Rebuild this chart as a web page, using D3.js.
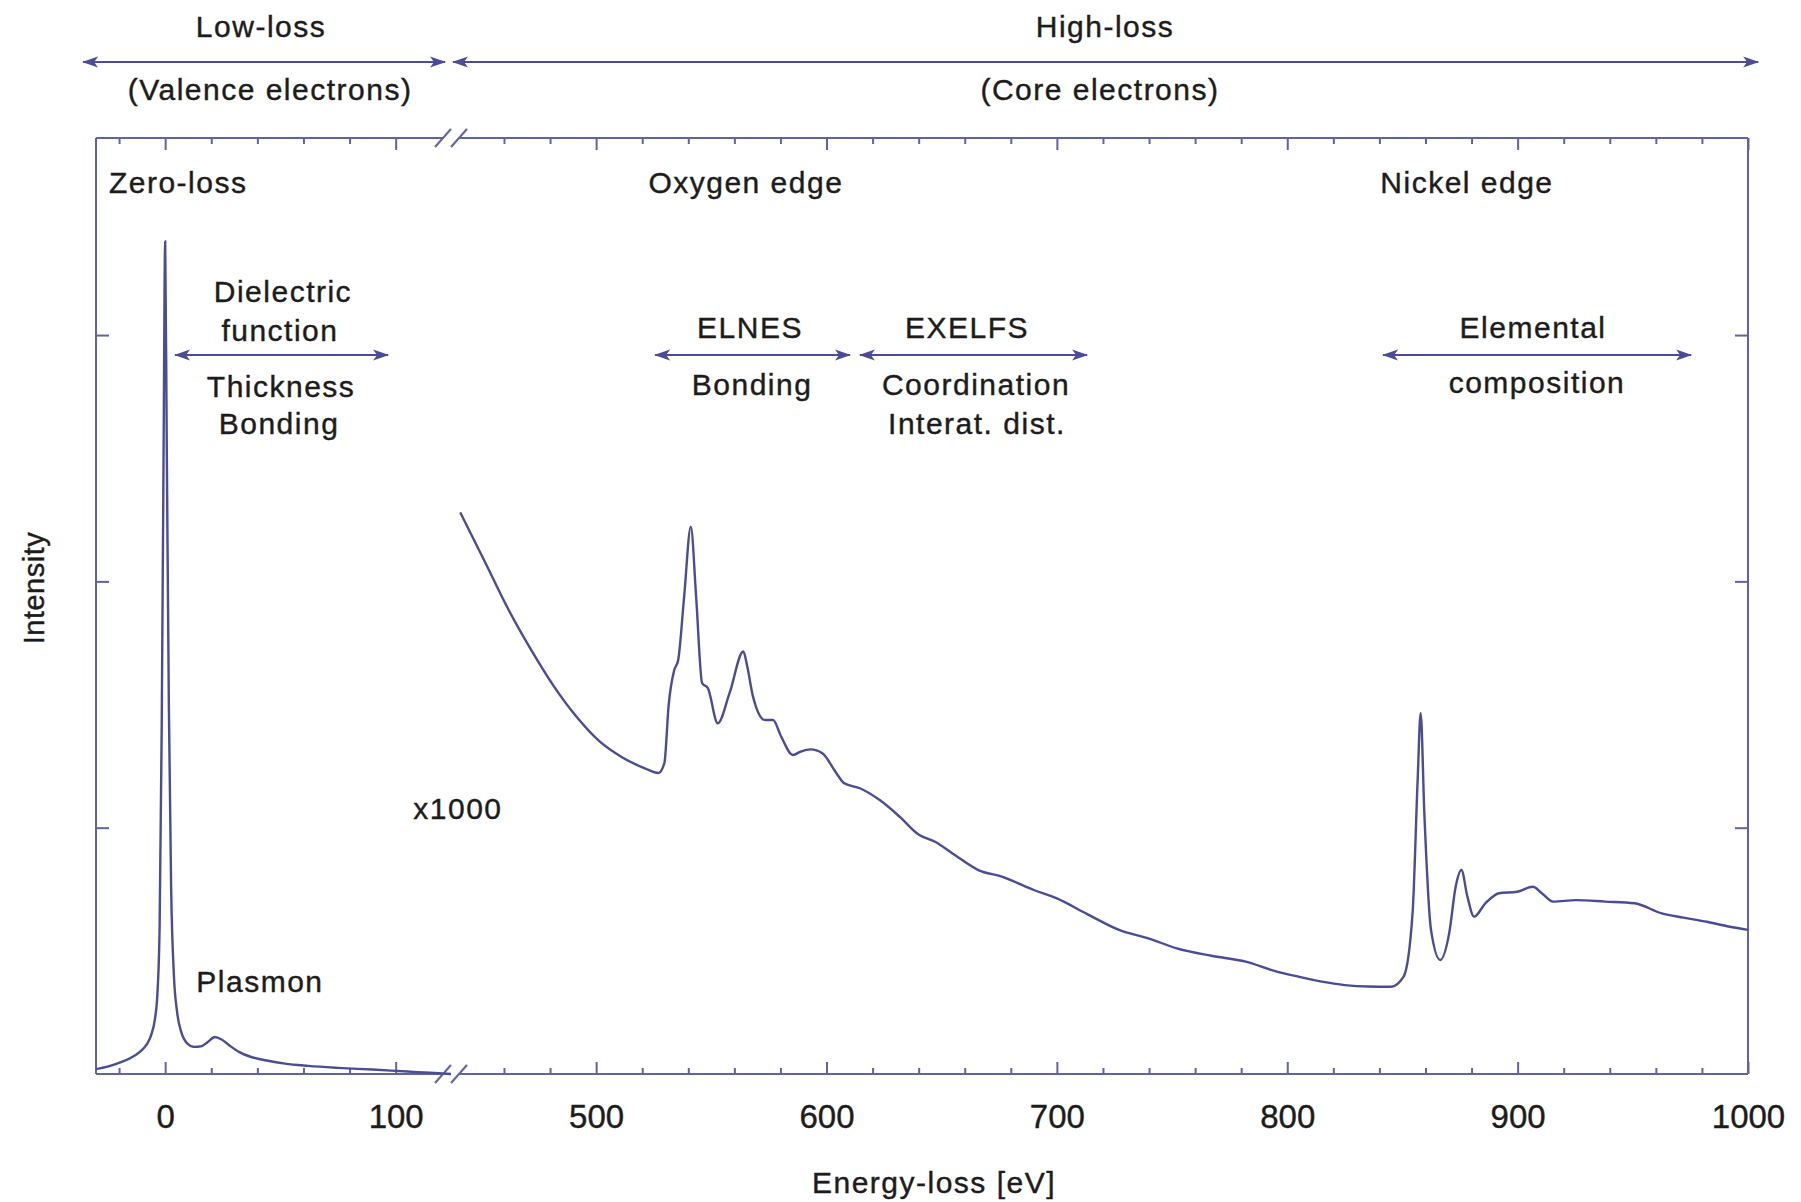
<!DOCTYPE html>
<html>
<head>
<meta charset="utf-8">
<script src="https://cdn.jsdelivr.net/npm/d3@7"></script>
<style>
  body { margin: 0; background: #fff; }
  text { font-family: "Liberation Sans", Arial, Helvetica, sans-serif; fill: #1c1c1c; }
</style>
</head>
<body>
<script>
// low-loss part (valence electrons), energy in eV and intensity in arbitrary units
var lowEnergy = [-30, -25, -20, -15, -11, -8, -6, -4.5, -3.4, -2.4, -1.5, -0.7, 0, 0.7, 1.6, 2.6, 3.8, 5.2, 7, 9.5,
  12.5, 15.5, 18.5, 21.6, 24.5, 28, 32, 37, 44, 52, 62, 75, 90, 105, 115, 124];
var lowIntensity = [0.02, 0.03, 0.045, 0.065, 0.09, 0.12, 0.16, 0.22, 0.32, 0.6, 1.4, 2.5, 3.38, 2.55, 1.5, 0.75, 0.4, 0.25, 0.17, 0.125,
  0.11, 0.112, 0.13, 0.15, 0.14, 0.115, 0.09, 0.07, 0.055, 0.042, 0.033, 0.025, 0.018, 0.01, 0.005, 0.0];

// high-loss part (core electrons, x1000)
var highEnergy = [441, 451.7, 461.7, 471.6, 481.6, 491.5, 501.5, 511.4, 521.4, 527, 529.6, 531.5, 533.9, 535.6, 538.2, 541.1, 543.4, 546,
  548.5, 552.8, 557.9, 563.9, 565.6, 568.1, 573.3, 576.8, 580.3, 585.4, 588.8, 593.1, 598.2, 604.3, 607.7, 614.5, 623.1, 631.7, 640.3, 647.1,
  655.7, 665.9, 676.1, 690, 700, 713, 727, 740, 752, 767, 782, 794, 805, 815, 825, 835, 845, 850.5, 854.4, 856.6,
  857.9, 859.5, 862.4, 866.4, 870.3, 873.1, 875.6, 878.2, 881.1, 886, 891.9, 899.8, 906.6, 910.5, 915.4, 925.3, 938, 950.7, 962.6, 972,
  982.2, 991, 1000];
var highIntensity = [2.28, 2.08, 1.89, 1.725, 1.575, 1.45, 1.35, 1.285, 1.24, 1.222, 1.261, 1.5, 1.64, 1.68, 1.938, 2.222, 1.938, 1.587,
  1.567, 1.424, 1.546, 1.715, 1.654, 1.532, 1.437, 1.437, 1.37, 1.295, 1.309, 1.318, 1.302, 1.221, 1.18, 1.16, 1.112, 1.045, 0.97, 0.943,
  0.889, 0.828, 0.801, 0.747, 0.713, 0.65, 0.585, 0.55, 0.51, 0.48, 0.456, 0.42, 0.395, 0.375, 0.361, 0.355, 0.354, 0.395, 0.654, 1.194,
  1.466, 1.06, 0.585, 0.463, 0.572, 0.76, 0.828, 0.72, 0.639, 0.693, 0.734, 0.74, 0.76, 0.734, 0.7, 0.706, 0.7, 0.693, 0.652, 0.635,
  0.618, 0.6, 0.585];

// tick values
var lowMajor = [0, 100];
var lowMinor = [-20, 20, 40, 60, 80];
var highMajor = [500, 600, 700, 800, 900, 1000];
var highMinor = d3.range(460, 1000, 20).filter(function (d) { return d % 100 !== 0; });
var yTicks = [1, 2, 3];

var width = 1801, height = 1202;
var plotLeft = 96, plotRight = 1748, plotTop = 138, plotBottom = 1074, brk = 451;
var blue = '#4a4c96';
var frameBlue = '#6062a6';
var ink = '#1c1c1c';

var svg = d3.select('body').append('svg')
  .attr('width', width)
  .attr('height', height);

var xLow = d3.scaleLinear().domain([-30, 124]).range([plotLeft, brk]);
var xHigh = d3.scaleLinear().domain([437, 1000]).range([brk, plotRight]);
var y = d3.scaleLinear().domain([0, 3.8]).range([plotBottom, plotTop]);

// arrow head
var defs = svg.append('defs');
defs.append('marker')
  .attr('id', 'head')
  .attr('markerUnits', 'userSpaceOnUse')
  .attr('markerWidth', 17).attr('markerHeight', 12)
  .attr('refX', 15).attr('refY', 6)
  .attr('orient', 'auto-start-reverse')
  .append('path')
  .attr('d', 'M0,0.5 L16,6 L0,11.5 L4,6 Z')
  .attr('fill', blue);

function arrow(x1, x2, yy) {
  svg.append('line')
    .attr('x1', x1).attr('x2', x2)
    .attr('y1', yy).attr('y2', yy)
    .attr('stroke', blue)
    .attr('stroke-width', 2.2)
    .attr('marker-start', 'url(#head)')
    .attr('marker-end', 'url(#head)');
}

function label(txt, x, yy, anchor, size) {
  return svg.append('text')
    .attr('x', x).attr('y', yy)
    .attr('text-anchor', anchor || 'middle')
    .attr('font-size', (size || 30) + 'px')
    .attr('letter-spacing', '1.5px')
    .attr('stroke', ink)
    .attr('stroke-width', 0.4)
    .text(txt);
}

// frame with break marks
var frame = svg.append('g').attr('stroke', frameBlue).attr('stroke-width', 2).attr('fill', 'none');
[plotTop, plotBottom].forEach(function (yy) {
  frame.append('line').attr('x1', plotLeft).attr('x2', brk - 8).attr('y1', yy).attr('y2', yy);
  frame.append('line').attr('x1', brk + 8).attr('x2', plotRight).attr('y1', yy).attr('y2', yy);
  [-8, 8].forEach(function (dx) {
    frame.append('line')
      .attr('x1', brk + dx - 8).attr('y1', yy + 9)
      .attr('x2', brk + dx + 8).attr('y2', yy - 9);
  });
});
frame.append('line').attr('x1', plotLeft).attr('x2', plotLeft).attr('y1', plotTop).attr('y2', plotBottom);
frame.append('line').attr('x1', plotRight).attr('x2', plotRight).attr('y1', plotTop).attr('y2', plotBottom);

// ticks (pointing inward)
function ticks(axisFn, scale, values, size, translate, withLabels) {
  var g = svg.append('g')
    .attr('transform', translate)
    .call(axisFn(scale).tickValues(values).tickSize(-size).tickPadding(31)
      .tickFormat(withLabels ? d3.format('d') : ''));
  g.select('.domain').remove();
  g.selectAll('line').attr('stroke', frameBlue).attr('stroke-width', 2);
  g.selectAll('text')
    .attr('font-size', '33px')
    .attr('fill', ink)
    .attr('stroke', ink)
    .attr('stroke-width', 0.4)
    .style('font-family', '"Liberation Sans", Arial, sans-serif');
  return g;
}
ticks(d3.axisBottom, xLow, lowMajor, 12, 'translate(0,' + plotBottom + ')', true);
ticks(d3.axisBottom, xLow, lowMinor, 6, 'translate(0,' + plotBottom + ')', false);
ticks(d3.axisBottom, xHigh, highMajor, 12, 'translate(0,' + plotBottom + ')', true);
ticks(d3.axisBottom, xHigh, highMinor, 6, 'translate(0,' + plotBottom + ')', false);
ticks(d3.axisTop, xLow, lowMajor, 12, 'translate(0,' + plotTop + ')', false);
ticks(d3.axisTop, xLow, lowMinor, 6, 'translate(0,' + plotTop + ')', false);
ticks(d3.axisTop, xHigh, highMajor, 12, 'translate(0,' + plotTop + ')', false);
ticks(d3.axisTop, xHigh, highMinor, 6, 'translate(0,' + plotTop + ')', false);
ticks(d3.axisLeft, y, yTicks, 13, 'translate(' + plotLeft + ',0)', false);
ticks(d3.axisRight, y, yTicks, 13, 'translate(' + plotRight + ',0)', false);

// spectrum
var lowData = lowEnergy.map(function (e, i) { return [e, lowIntensity[i]]; });
var highData = highEnergy.map(function (e, i) { return [e, highIntensity[i]]; });

var lowLine = d3.line()
  .x(function (d) { return xLow(d[0]); })
  .y(function (d) { return y(d[1]); })
  .curve(d3.curveMonotoneX);
var highLine = d3.line()
  .x(function (d) { return xHigh(d[0]); })
  .y(function (d) { return y(d[1]); })
  .curve(d3.curveMonotoneX);

svg.append('path').datum(lowData)
  .attr('d', lowLine)
  .attr('fill', 'none')
  .attr('stroke', blue)
  .attr('stroke-width', 2.4);
svg.append('path').datum(highData)
  .attr('d', highLine)
  .attr('fill', 'none')
  .attr('stroke', blue)
  .attr('stroke-width', 2.4);

// header: low-loss / high-loss ranges
label('Low-loss', xLow(41.6), 37);
label('(Valence electrons)', xLow(45.5), 100);
arrow(xLow(-35.6), xLow(121.4), 62);
label('High-loss', xHigh(720.9), 37);
label('(Core electrons)', xHigh(718.7), 100);
arrow(xHigh(437.9), xHigh(1004.4), 62);

// annotations inside the plot
label('Zero-loss', xLow(-24.4), y(3.577), 'start');
label('Oxygen edge', xHigh(565), y(3.577));
label('Nickel edge', xHigh(878), y(3.577));

label('Dielectric', xLow(51.1), y(3.134));
label('function', xLow(49.8), y(2.976));
arrow(xLow(4.3), xLow(96.7), y(2.919));
label('Thickness', xLow(50.3), y(2.749));
label('Bonding', xLow(49.4), y(2.598));

label('ELNES', xHigh(566.8), y(2.988));
arrow(xHigh(525.6), xHigh(610.2), y(2.919));
label('Bonding', xHigh(567.7), y(2.757));

label('EXELFS', xHigh(661), y(2.988));
arrow(xHigh(614.5), xHigh(713.1), y(2.919));
label('Coordination', xHigh(664.9), y(2.757));
label('Interat. dist.', xHigh(665.3), y(2.598));

label('Elemental', xHigh(906.7), y(2.988));
arrow(xHigh(841.6), xHigh(975.3), y(2.919));
label('composition', xHigh(908.4), y(2.765));

label('Plasmon', xLow(41.1), y(0.333));
label('x1000', xHigh(440), y(1.035));

// axis titles
label('Energy-loss [eV]', 934, 1193);
svg.append('text')
  .attr('transform', 'translate(44,588) rotate(-90)')
  .attr('text-anchor', 'middle')
  .attr('font-size', '29px')
  .attr('letter-spacing', '0.5px')
  .attr('stroke', ink)
  .attr('stroke-width', 0.4)
  .text('Intensity');
</script>
</body>
</html>
